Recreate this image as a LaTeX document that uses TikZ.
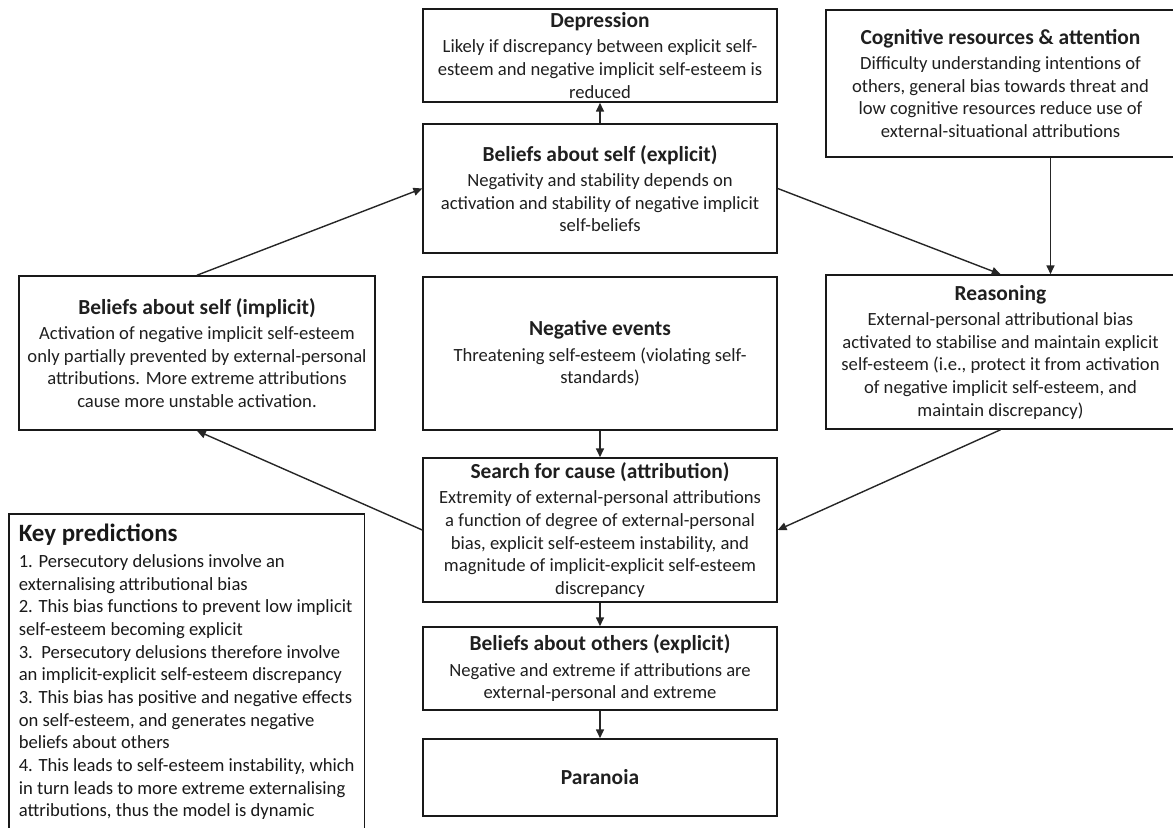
\documentclass[tikz,border=0pt]{standalone}
\usepackage{fontspec}
\setmainfont{Carlito}
\usetikzlibrary{arrows.meta, positioning}
\newcommand{\boxttl}[1]{{\fontsize{12.2}{14.9}\selectfont\bfseries #1}}
\newcommand{\keyttl}[1]{{\fontsize{14.2}{17}\selectfont\bfseries #1}}

\begin{document}
\begin{tikzpicture}[x=0.02cm, y=-0.02cm,
  box/.style={rectangle,draw=black!90,line width=0.9pt,align=center,text=black!88,font=\fontsize{10.6}{12.9}\selectfont, minimum width=7.08cm,inner sep=2pt},
  sidebox/.style={box, minimum width=6.98cm},
  keybox/.style={rectangle,draw=black!90,line width=0.9pt,align=left,text=black!90,font=\fontsize{10.6}{12.9}\selectfont, anchor=north west,minimum width=7.1cm,inner xsep=0.2cm,inner ysep=0.2cm,text depth=0.6cm},
  arr/.style={-{Triangle[length=5pt,width=4.5pt]},line width=0.8pt,draw=black!85}
]
  \useasboundingbox (0,0) rectangle (1173,828);

  \node[box, minimum height=1.86cm](dep) at (600,55.5) {\boxttl{Depression}\\[1.5pt]Likely if discrepancy between explicit self-\\esteem and negative implicit self-esteem is\\reduced};
  \node[box, minimum height=2.58cm](expl) at (600,188.5) {\boxttl{Beliefs about self (explicit)}\\[1.5pt]Negativity and stability depends on\\activation and stability of negative implicit\\self-beliefs};
  \node[box, minimum height=3.06cm](neg) at (600,353.5) {\boxttl{Negative events}\\[1.5pt]Threatening self-esteem (violating self-\\standards)};
  \node[box, minimum height=2.88cm](search) at (600,530) {\boxttl{Search for cause (attribution)}\\[1.5pt]Extremity of external-personal attributions\\a function of degree of external-personal\\bias, explicit self-esteem instability, and\\magnitude of implicit-explicit self-esteem\\discrepancy};
  \node[box, minimum height=1.66cm](others) at (600,668.5) {\boxttl{Beliefs about others (explicit)}\\[1.5pt]Negative and extreme if attributions are\\external-personal and extreme};
  \node[box, minimum height=1.54cm](para) at (600,777.5) {\boxttl{Paranoia}};

  \node[sidebox, minimum height=2.94cm](cog) at (1000.5,83.5) {\boxttl{Cognitive resources \& attention}\\[1.5pt]Difficulty understanding intentions of\\others, general bias towards threat and\\low cognitive resources reduce use of\\external-situational attributions};
  \node[sidebox, minimum height=3.08cm](reas) at (1000.5,352) {\boxttl{Reasoning}\\[1.5pt]External-personal attributional bias\\activated to stabilise and maintain explicit\\self-esteem (i.e., protect it from activation\\of negative implicit self-esteem, and\\maintain discrepancy)};
  \node[box, minimum width=7.12cm, minimum height=3.08cm](impl) at (197,353) {\boxttl{Beliefs about self (implicit)}\\[1.5pt]Activation of negative implicit self-esteem\\only partially prevented by external-personal\\attributions. More extreme attributions\\cause more unstable activation.};

  \node[keybox](key) at (8,513) {\keyttl{Key predictions}\\[2pt]1. Persecutory delusions involve an\\externalising attributional bias\\2. This bias functions to prevent low implicit\\self-esteem becoming explicit\\3.\ \ Persecutory delusions therefore involve\\an implicit-explicit self-esteem discrepancy\\3. This bias has positive and negative effects\\on self-esteem, and generates negative\\beliefs about others\\4. This leads to self-esteem instability, which\\in turn leads to more extreme externalising\\attributions, thus the model is dynamic};

  \draw[arr](expl)--(dep);
  \draw[arr](impl.north)--(expl.west);
  \draw[arr](expl.east)--(reas.north);
  \draw[arr]([xshift=1cm]cog.south)--([xshift=1cm]reas.north);
  \draw[arr](reas.south)--(search.east);
  \draw[arr](search.west)--(impl.south);
  \draw[arr](neg)--(search);
  \draw[arr](search)--(others);
  \draw[arr](others)--(para);
\end{tikzpicture}
\end{document}
